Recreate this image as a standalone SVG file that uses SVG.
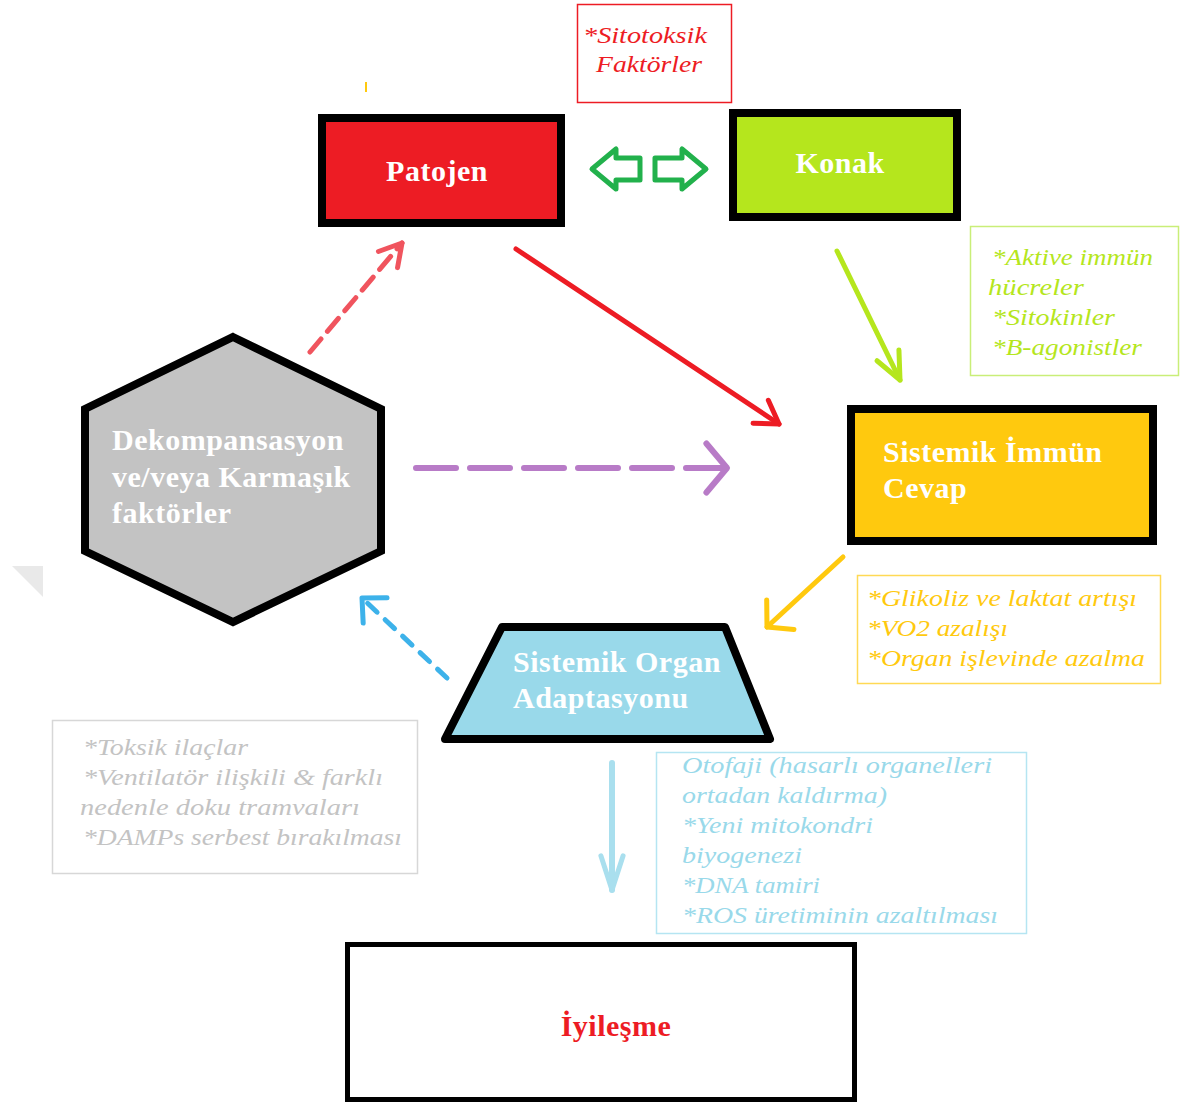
<svg xmlns="http://www.w3.org/2000/svg" width="1189" height="1106" viewBox="0 0 1189 1106">
<style>
.lbl{font-family:"Liberation Serif","Times New Roman",serif;font-weight:bold;font-size:30px;fill:#FFFFFF;letter-spacing:0.5px}
.it{font-family:"Liberation Serif","Times New Roman",serif;font-style:italic;font-size:23px}
.box{stroke:#000000;stroke-width:8}
.tbox{fill:#FFFFFF;stroke-width:1.5}
.conn{fill:none;stroke-linecap:round}
.head{fill:none;stroke-linecap:round;stroke-linejoin:round}
</style>
<defs>
<marker id="m-red" markerUnits="userSpaceOnUse" orient="auto" refX="0" refY="0" markerWidth="60" markerHeight="60" overflow="visible"><path class="head" d="M-22,-13.8 L0,0 L-22,13.8" stroke="#ED1C24" stroke-width="5"/></marker>
<marker id="m-reddash" markerUnits="userSpaceOnUse" orient="auto" refX="0" refY="0" markerWidth="60" markerHeight="60" overflow="visible"><path class="head" d="M-21.7,-12.5 L0,0 L-21.7,12.5" stroke="#F0545E" stroke-width="5"/></marker>
<marker id="m-green" markerUnits="userSpaceOnUse" orient="auto" refX="0" refY="0" markerWidth="60" markerHeight="60" overflow="visible"><path class="head" d="M-27.4,-12.2 L0,0 L-27.4,12.2" stroke="#B5E61D" stroke-width="5"/></marker>
<marker id="m-purple" markerUnits="userSpaceOnUse" orient="auto" refX="0" refY="0" markerWidth="60" markerHeight="60" overflow="visible"><path class="head" d="M-20.6,-24.5 L0,0 L-20.6,24.5" stroke="#B87BC7" stroke-width="6"/></marker>
<marker id="m-orange" markerUnits="userSpaceOnUse" orient="auto" refX="0" refY="0" markerWidth="60" markerHeight="60" overflow="visible"><path class="head" d="M-18.1,-20.1 L0,0 L-18.1,20.1" stroke="#FFC90E" stroke-width="5"/></marker>
<marker id="m-blue" markerUnits="userSpaceOnUse" orient="auto" refX="0" refY="0" markerWidth="60" markerHeight="60" overflow="visible"><path class="head" d="M-18,-17.4 L0,0 L-18,17.4" stroke="#3DB2EA" stroke-width="5"/></marker>
<marker id="m-lblue" markerUnits="userSpaceOnUse" orient="auto" refX="0" refY="0" markerWidth="60" markerHeight="60" overflow="visible"><path class="head" d="M-34.2,-11.1 L0,0 L-34.2,11.1" stroke="#A9DFEE" stroke-width="5"/></marker>
</defs>
<rect x="0" y="0" width="1189" height="1106" fill="#FFFFFF"/>

<!-- stray marks -->
<polygon points="12,566 43,566 43,597" fill="#E9E9E9"/>
<line x1="366" y1="82" x2="366" y2="92" stroke="#FFC90E" stroke-width="2"/>

<g id="connectors">
  <path class="conn" d="M516,249 L779,424" stroke="#ED1C24" stroke-width="5" marker-end="url(#m-red)"/>
  <path class="conn" d="M310,352 L402,243" stroke="#F0545E" stroke-width="5" stroke-dasharray="17 10" marker-end="url(#m-reddash)"/>
  <path class="conn" d="M837,251 L900,380" stroke="#B5E61D" stroke-width="5" marker-end="url(#m-green)"/>
  <path class="conn" d="M416,468 L727,468" stroke="#B87BC7" stroke-width="6" stroke-dasharray="40 14" stroke-linecap="butt" marker-end="url(#m-purple)"/>
  <path class="conn" d="M843,557 L767,627" stroke="#FFC90E" stroke-width="5" marker-end="url(#m-orange)"/>
  <path class="conn" d="M447,678 L362,598" stroke="#3DB2EA" stroke-width="5" stroke-dasharray="13 11" stroke-linecap="butt" marker-end="url(#m-blue)"/>
  <path class="conn" d="M612,763 L612,890" stroke="#A9DFEE" stroke-width="6" marker-end="url(#m-lblue)"/>
  <g id="double-arrow" fill="#FFFFFF" stroke="#22B14C" stroke-width="5" stroke-linejoin="round">
    <polygon points="592,169 616,149 616,158 640,158 640,180 616,180 616,189"/>
    <polygon points="706,169 682,149 682,158 655,158 655,180 682,180 682,189"/>
  </g>
</g>

<g id="sitotoksik">
  <rect class="tbox" x="577.5" y="4.5" width="154" height="98" stroke="#ED1C24"/>
  <text class="it" fill="#ED1C24" x="583" y="43" textLength="124" lengthAdjust="spacingAndGlyphs">*Sitotoksik</text>
  <text class="it" fill="#ED1C24" x="596" y="72" textLength="106" lengthAdjust="spacingAndGlyphs">Faktörler</text>
</g>

<g id="patojen">
  <rect class="box" x="322" y="118" width="239" height="105" fill="#ED1C24"/>
  <text class="lbl" x="437" y="181" text-anchor="middle">Patojen</text>
</g>

<g id="konak">
  <rect class="box" x="733" y="113" width="224" height="104" fill="#B5E61D"/>
  <text class="lbl" x="840" y="173" text-anchor="middle">Konak</text>
</g>

<g id="konak-notes">
  <rect class="tbox" x="970.5" y="226.5" width="208" height="149" stroke="#C9EE78"/>
  <text class="it" fill="#B5E61D" x="992" y="265" textLength="161" lengthAdjust="spacingAndGlyphs">*Aktive immün</text>
  <text class="it" fill="#B5E61D" x="988" y="295" textLength="96" lengthAdjust="spacingAndGlyphs">hücreler</text>
  <text class="it" fill="#B5E61D" x="992" y="325" textLength="123" lengthAdjust="spacingAndGlyphs">*Sitokinler</text>
  <text class="it" fill="#B5E61D" x="992" y="355" textLength="150" lengthAdjust="spacingAndGlyphs">*B-agonistler</text>
</g>

<g id="sistemik-immun">
  <rect class="box" x="851" y="409" width="302" height="132" fill="#FFC90E"/>
  <text class="lbl" x="883" y="462">Sistemik İmmün</text>
  <text class="lbl" x="883" y="498">Cevap</text>
</g>

<g id="immun-notes">
  <rect class="tbox" x="857.5" y="575.5" width="303" height="108" stroke="#FFD955"/>
  <text class="it" fill="#FFC90E" x="867" y="606" textLength="270" lengthAdjust="spacingAndGlyphs">*Glikoliz ve laktat artışı</text>
  <text class="it" fill="#FFC90E" x="867" y="636" textLength="141" lengthAdjust="spacingAndGlyphs">*VO2 azalışı</text>
  <text class="it" fill="#FFC90E" x="867" y="666" textLength="278" lengthAdjust="spacingAndGlyphs">*Organ işlevinde azalma</text>
</g>

<g id="dekompansasyon">
  <polygon class="box" points="233,337 381,409 381,551 233,622 85,551 85,409" fill="#C3C3C3"/>
  <text class="lbl" x="112" y="450">Dekompansasyon</text>
  <text class="lbl" x="112" y="487">ve/veya Karmaşık</text>
  <text class="lbl" x="112" y="523">faktörler</text>
</g>

<g id="organ-adaptasyonu">
  <polygon class="box" points="502,627 725,627 770,739 445,739" fill="#99D9EA" stroke-linejoin="round"/>
  <text class="lbl" x="513" y="672">Sistemik Organ</text>
  <text class="lbl" x="513" y="708">Adaptasyonu</text>
</g>

<g id="dekompansasyon-notes">
  <rect class="tbox" x="52.5" y="720.5" width="365" height="153" stroke="#D7D7D7"/>
  <text class="it" fill="#C3C3C3" x="83" y="755" textLength="165" lengthAdjust="spacingAndGlyphs">*Toksik ilaçlar</text>
  <text class="it" fill="#C3C3C3" x="83" y="785" textLength="300" lengthAdjust="spacingAndGlyphs">*Ventilatör ilişkili &amp; farklı</text>
  <text class="it" fill="#C3C3C3" x="80" y="815" textLength="280" lengthAdjust="spacingAndGlyphs">nedenle doku tramvaları</text>
  <text class="it" fill="#C3C3C3" x="83" y="845" textLength="319" lengthAdjust="spacingAndGlyphs">*DAMPs serbest bırakılması</text>
</g>

<g id="organ-notes">
  <rect class="tbox" x="656.5" y="752.5" width="370" height="181" stroke="#B5E5F2"/>
  <text class="it" fill="#99D9EA" x="682" y="773" textLength="310" lengthAdjust="spacingAndGlyphs">Otofaji (hasarlı organelleri</text>
  <text class="it" fill="#99D9EA" x="682" y="803" textLength="205" lengthAdjust="spacingAndGlyphs">ortadan kaldırma)</text>
  <text class="it" fill="#99D9EA" x="682" y="833" textLength="191" lengthAdjust="spacingAndGlyphs">*Yeni mitokondri</text>
  <text class="it" fill="#99D9EA" x="682" y="863" textLength="120" lengthAdjust="spacingAndGlyphs">biyogenezi</text>
  <text class="it" fill="#99D9EA" x="682" y="893" textLength="138" lengthAdjust="spacingAndGlyphs">*DNA tamiri</text>
  <text class="it" fill="#99D9EA" x="682" y="923" textLength="316" lengthAdjust="spacingAndGlyphs">*ROS üretiminin azaltılması</text>
</g>

<g id="iyilesme">
  <rect x="347.5" y="944.5" width="507" height="155" fill="#FFFFFF" stroke="#000000" stroke-width="5"/>
  <text class="lbl" x="616" y="1036" text-anchor="middle" fill="#ED1C24" style="fill:#ED1C24">İyileşme</text>
</g>
</svg>
